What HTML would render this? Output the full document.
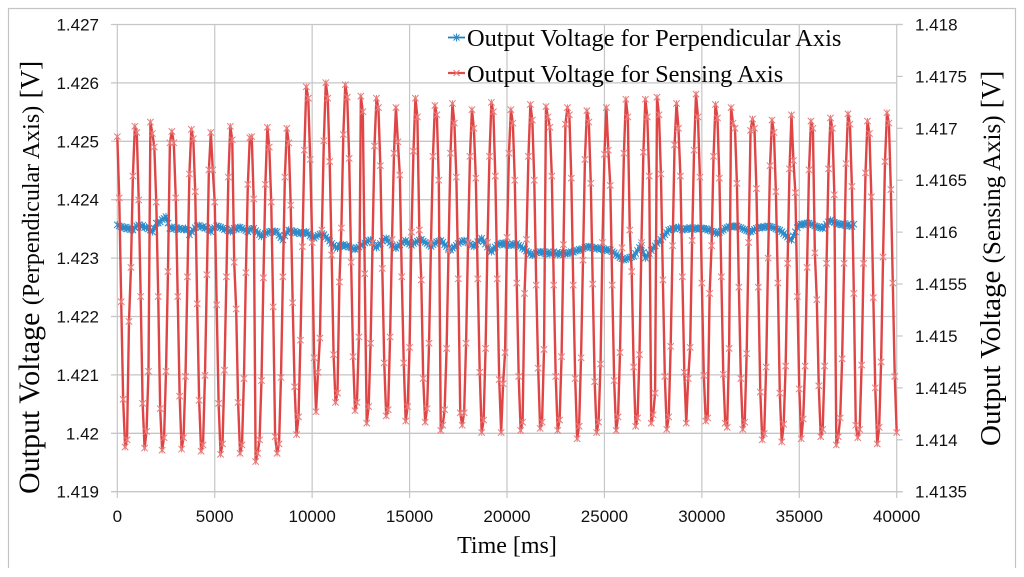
<!DOCTYPE html>
<html lang="en">
<head>
<meta charset="utf-8">
<title>Output Voltage Chart</title>
<style>
html,body{margin:0;padding:0;background:#fff;width:1024px;height:577px;overflow:hidden}
svg{display:block;filter:blur(0.3px)}
.tick{font-family:"Liberation Sans",sans-serif;font-size:17px;fill:#111}
.title{font-family:"Liberation Serif",serif;fill:#050505}
</style>
</head>
<body>
<svg id="chart" xmlns="http://www.w3.org/2000/svg" width="1024" height="577" viewBox="0 0 1024 577">
  <rect x="0" y="0" width="1024" height="577" fill="#fff"/>
  <path d="M8.5 568V8.5H1015.5V568" fill="none" stroke="#c4c4c4" stroke-width="1.2"/>
  <g id="grid"></g>
  <g id="series"></g>
  <g id="labels"></g>
  <text class="title" x="507" y="553" text-anchor="middle" font-size="24">Time [ms]</text>
  <text class="title" transform="translate(39,494) rotate(-90)" font-size="30">Output Voltage <tspan font-size="24">(Perpendicular Axis)</tspan> <tspan font-size="27">[V]</tspan></text>
  <text class="title" transform="translate(1000,446) rotate(-90)" font-size="29">Output Voltage <tspan font-size="25">(Sensing Axis)</tspan> <tspan font-size="27">[V]</tspan></text>
  <g>
    <g>
      <line x1="448" y1="37.5" x2="465" y2="37.5" stroke="#1c80c4" stroke-width="1.8"/>
      <path d="M453.5 34.5l6 6M459.5 34.5l-6 6M456.5 33.5v8" stroke="#2a8ccc" stroke-width="1" fill="none"/>
      <text class="title" x="467" y="46" font-size="24.4">Output Voltage for Perpendicular Axis</text>
    </g>
    <g>
      <line x1="448" y1="73" x2="465" y2="73" stroke="#df4a4a" stroke-width="2.2"/>
      <path d="M453.5 70l6 6M459.5 70l-6 6" stroke="#ea7a7a" stroke-width="1.1" fill="none"/>
      <text class="title" x="467" y="82" font-size="24.4">Output Voltage for Sensing Axis</text>
    </g>
  </g>
</svg>
<script>
const xTickValues = [0, 5000, 10000, 15000, 20000, 25000, 30000, 35000, 40000];
const leftTickLabels = ["1.427", "1.426", "1.425", "1.424", "1.423", "1.422", "1.421", "1.42", "1.419"];
const rightTickLabels = ["1.418", "1.4175", "1.417", "1.4165", "1.416", "1.4155", "1.415", "1.4145", "1.414", "1.4135"];
const sampleIntervalMs = 100;

const perpendicularVolts = [
1.42357,1.42355,1.42354,1.42351,1.42353,1.42350,1.42352,1.42349,1.42348,1.42352,1.42355,1.42357,
1.42354,1.42356,1.42352,1.42353,1.42350,1.42348,1.42345,1.42351,1.42360,1.42360,1.42362,1.42366,1.42368,1.42371,
1.42360,1.42351,1.42353,1.42350,1.42352,1.42349,1.42351,1.42350,1.42349,1.42351,1.42348,1.42340,
1.42345,1.42348,1.42352,1.42355,1.42356,1.42353,1.42354,1.42351,1.42352,1.42349,1.42345,
1.42350,1.42352,1.42355,1.42354,1.42353,1.42351,1.42349,1.42350,1.42347,1.42345,
1.42348,1.42351,1.42349,1.42352,1.42353,1.42351,1.42349,1.42347,1.42345,1.42349,1.42350,1.42351,
1.42347,1.42344,1.42340,1.42337,1.42340,1.42342,1.42344,1.42345,1.42346,1.42344,1.42346,1.42345,
1.42339,1.42335,1.42331,1.42338,1.42344,1.42348,1.42347,1.42345,1.42346,1.42343,1.42344,1.42342,
1.42344,1.42343,1.42345,1.42342,1.42338,1.42336,1.42334,1.42337,1.42339,1.42341,1.42342,
1.42340,1.42336,1.42333,1.42329,1.42325,1.42322,1.42319,1.42317,
1.42322,1.42321,1.42323,1.42320,1.42322,1.42319,1.42318,1.42316,1.42315,
1.42317,1.42319,1.42322,1.42323,1.42326,1.42328,1.42330,1.42331,1.42326,1.42322,1.42318,
1.42322,1.42325,1.42329,1.42332,1.42334,1.42330,1.42326,1.42322,1.42319,1.42317,
1.42320,1.42323,1.42326,1.42328,1.42330,1.42327,1.42324,1.42322,
1.42325,1.42327,1.42329,1.42331,1.42332,1.42329,1.42327,1.42325,1.42322,1.42320,
1.42323,1.42325,1.42328,1.42329,1.42330,1.42327,1.42323,1.42320,1.42317,1.42314,
1.42317,1.42319,1.42322,1.42325,1.42327,1.42329,1.42330,1.42328,1.42326,1.42324,1.42322,1.42320,
1.42324,1.42328,1.42331,1.42334,1.42329,1.42324,1.42319,1.42314,1.42311,
1.42315,1.42319,1.42322,1.42325,1.42324,1.42326,1.42323,1.42325,1.42322,1.42322,1.42324,1.42323,1.42325,
1.42322,1.42320,1.42317,1.42315,1.42312,1.42310,1.42307,1.42305,1.42307,1.42309,1.42310,1.42311,
1.42309,1.42311,1.42308,1.42310,1.42307,1.42309,1.42311,1.42308,1.42306,1.42309,1.42307,1.42310,1.42308,1.42308,
1.42309,1.42311,1.42310,1.42312,1.42313,1.42315,1.42314,1.42316,1.42318,1.42319,1.42320,
1.42319,1.42317,1.42318,1.42316,1.42317,1.42315,1.42316,1.42314,1.42315,1.42313,1.42314,
1.42311,1.42309,1.42306,1.42304,1.42301,1.42299,1.42297,1.42298,1.42300,1.42301,1.42302,1.42303,
1.42308,1.42313,1.42318,1.42322,1.42310,1.42300,1.42304,1.42308,1.42313,1.42317,1.42321,1.42325,
1.42328,1.42332,1.42336,1.42340,1.42344,1.42348,1.42349,1.42351,1.42350,1.42352,1.42353,1.42350,
1.42348,1.42349,1.42351,1.42350,1.42352,1.42349,1.42351,1.42350,1.42352,1.42350,1.42351,1.42351,
1.42350,1.42348,1.42349,1.42346,1.42345,1.42344,1.42342,1.42344,1.42346,1.42348,1.42351,1.42352,1.42354,
1.42353,1.42355,1.42354,1.42355,1.42353,1.42352,1.42350,1.42349,1.42347,1.42346,1.42345,
1.42347,1.42349,1.42351,1.42352,1.42353,1.42352,1.42354,1.42353,1.42355,1.42354,
1.42353,1.42352,1.42350,1.42349,1.42348,1.42345,1.42342,1.42339,1.42336,1.42333,1.42331,
1.42338,1.42345,1.42352,1.42357,1.42358,1.42357,1.42359,1.42360,1.42360,
1.42358,1.42357,1.42355,1.42354,1.42353,1.42352,1.42351,1.42354,1.42358,1.42362,1.42365,
1.42363,1.42361,1.42360,1.42358,1.42358,1.42357,1.42359,1.42356,1.42358,1.42355,1.42354,1.42358
];

const sensingVolts = [
1.41692,1.41633,1.41533,1.41439,1.41393,1.41400,1.41514,1.41566,1.41654,1.41702,
1.41696,1.41631,1.41538,1.41435,1.41392,1.41408,1.41466,1.41706,1.41695,1.41682,
1.41629,1.41538,1.41430,1.41390,1.41402,1.41466,1.41562,1.41686,1.41697,1.41686,
1.41633,1.41538,1.41442,1.41391,1.41402,1.41461,1.41557,1.41656,1.41699,1.41690,
1.41639,1.41531,1.41438,1.41389,1.41395,1.41462,1.41559,1.41660,1.41696,1.41660,
1.41629,1.41530,1.41435,1.41386,1.41396,1.41467,1.41557,1.41653,1.41702,1.41689,
1.41571,1.41526,1.41436,1.41387,1.41395,1.41459,1.41561,1.41646,1.41691,1.41692,
1.41632,1.41379,1.41387,1.41400,1.41457,1.41556,1.41646,1.41701,1.41682,1.41629,
1.41528,1.41403,1.41387,1.41396,1.41460,1.41557,1.41653,1.41700,1.41686,1.41626,
1.41532,1.41451,1.41405,1.41422,1.41496,1.41586,1.41679,1.41740,1.41729,1.41670,
1.41590,1.41479,1.41427,1.41465,1.41498,1.41602,1.41688,1.41744,1.41729,1.41668,
1.41578,1.41482,1.41436,1.41445,1.41552,1.41604,1.41694,1.41742,1.41730,1.41671,
1.41571,1.41480,1.41428,1.41436,1.41499,1.41731,1.41716,1.41560,1.41416,1.41432,
1.41493,1.41590,1.41683,1.41729,1.41720,1.41664,1.41565,1.41474,1.41423,1.41429,
1.41499,1.41593,1.41676,1.41720,1.41687,1.41655,1.41557,1.41474,1.41418,1.41432,
1.41489,1.41600,1.41678,1.41729,1.41711,1.41602,1.41554,1.41459,1.41417,1.41430,
1.41493,1.41590,1.41673,1.41722,1.41713,1.41650,1.41409,1.41414,1.41429,1.41488,
1.41583,1.41676,1.41724,1.41705,1.41653,1.41555,1.41426,1.41414,1.41426,1.41493,
1.41590,1.41673,1.41718,1.41700,1.41652,1.41555,1.41465,1.41407,1.41419,1.41488,
1.41590,1.41673,1.41725,1.41716,1.41654,1.41555,1.41458,1.41407,1.41454,1.41484,
1.41595,1.41676,1.41718,1.41705,1.41650,1.41551,1.41461,1.41409,1.41417,1.41541,
1.41593,1.41673,1.41723,1.41708,1.41650,1.41549,1.41469,1.41411,1.41417,1.41487,
1.41721,1.41711,1.41701,1.41654,1.41549,1.41461,1.41409,1.41419,1.41480,1.41588,
1.41704,1.41720,1.41713,1.41652,1.41549,1.41459,1.41401,1.41413,1.41479,1.41573,
1.41670,1.41717,1.41706,1.41647,1.41550,1.41456,1.41407,1.41417,1.41473,1.41590,
1.41675,1.41720,1.41679,1.41645,1.41549,1.41457,1.41409,1.41422,1.41484,1.41585,
1.41676,1.41728,1.41711,1.41602,1.41562,1.41470,1.41413,1.41421,1.41482,1.41590,
1.41677,1.41728,1.41711,1.41654,1.41416,1.41424,1.41445,1.41730,1.41713,1.41656,
1.41554,1.41461,1.41410,1.41422,1.41490,1.41587,1.41684,1.41724,1.41700,1.41654,
1.41557,1.41465,1.41416,1.41459,1.41489,1.41592,1.41679,1.41733,1.41711,1.41653,
1.41551,1.41462,1.41418,1.41421,1.41541,1.41587,1.41673,1.41723,1.41710,1.41652,
1.41557,1.41463,1.41416,1.41412,1.41488,1.41720,1.41705,1.41700,1.41647,1.41547,
1.41459,1.41410,1.41417,1.41483,1.41590,1.41698,1.41709,1.41700,1.41642,1.41547,
1.41446,1.41400,1.41406,1.41470,1.41575,1.41664,1.41708,1.41696,1.41639,1.41551,
1.41445,1.41398,1.41415,1.41471,1.41570,1.41661,1.41713,1.41669,1.41638,1.41538,
1.41449,1.41401,1.41420,1.41471,1.41566,1.41660,1.41707,1.41700,1.41580,1.41535,
1.41452,1.41403,1.41410,1.41471,1.41570,1.41661,1.41710,1.41700,1.41636,1.41395,
1.41403,1.41421,1.41478,1.41570,1.41666,1.41714,1.41704,1.41644,1.41541,1.41414,
1.41402,1.41410,1.41472,1.41570,1.41657,1.41707,1.41695,1.41634,1.41537,1.41450,
1.41396,1.41412,1.41475,1.41576,1.41668,1.41715,1.41705,1.41641,1.41551,1.41461,
1.41407
];

const NS = "http://www.w3.org/2000/svg";
const plot = { left: 117.3, right: 896.7, top: 24.5, bottom: 491.7 };
const xDomain = [0, 40000];
const leftDomain = [1.419, 1.427];
const rightDomain = [1.4135, 1.418];

function xScale(t) {
  return plot.left + (t - xDomain[0]) / (xDomain[1] - xDomain[0]) * (plot.right - plot.left);
}
function leftScale(v) {
  return plot.bottom - (v - leftDomain[0]) / (leftDomain[1] - leftDomain[0]) * (plot.bottom - plot.top);
}
function rightScale(v) {
  return plot.bottom - (v - rightDomain[0]) / (rightDomain[1] - rightDomain[0]) * (plot.bottom - plot.top);
}
function make(tag, attrs) {
  const el = document.createElementNS(NS, tag);
  for (const k in attrs) el.setAttribute(k, attrs[k]);
  return el;
}

const grid = document.getElementById("grid");
const labels = document.getElementById("labels");
const seriesLayer = document.getElementById("series");
const gridColor = "#c6c6c6";

xTickValues.forEach(function (t) {
  const x = xScale(t);
  const line = make("line", { x1: x, x2: x, y1: plot.top, y2: 498, stroke: gridColor, "stroke-width": 1.2 });
  
  
  grid.appendChild(line);
  const label = make("text", { x: x, y: 522, "text-anchor": "middle", class: "tick" });
  
  
  label.textContent = String(t);
  labels.appendChild(label);
});

leftTickLabels.forEach(function (s, i) {
  const y = leftScale(parseFloat(s));
  const edge = (i === 0 || i === leftTickLabels.length - 1) ? 902.7 : plot.right;
  const line = make("line", { x1: 111, x2: edge, y1: y, y2: y, stroke: gridColor, "stroke-width": 1.3 });
  
  
  grid.appendChild(line);
  const label = make("text", { x: 99, y: y + 6, "text-anchor": "end", class: "tick" });
  
  
  label.textContent = s;
  labels.appendChild(label);
});

rightTickLabels.forEach(function (s) {
  const y = rightScale(parseFloat(s));
  const tick = make("line", { x1: plot.right, x2: 902.7, y1: y, y2: y, stroke: gridColor, "stroke-width": 1.2 });
  
  
  grid.appendChild(tick);
  const label = make("text", { x: 915, y: y + 6, "text-anchor": "start", class: "tick" });
  
  
  label.textContent = s;
  labels.appendChild(label);
});

function seriesPoints(values, scale) {
  return values.map(function (v, i) {
    return [xScale(i * sampleIntervalMs), scale(v)];
  });
}

const sensingPts = seriesPoints(sensingVolts, rightScale);
const sensingLine = make("polyline", {
  points: sensingPts.map(function (p) { return p[0].toFixed(2) + "," + p[1].toFixed(2); }).join(" "),
  fill: "none", stroke: "#df4545", "stroke-width": 2.4, "stroke-linejoin": "round"
});


seriesLayer.appendChild(sensingLine);

sensingPts.forEach(function (p) {
  const r = 3.2;
  const d = "M" + (p[0] - r) + " " + (p[1] - r) + "L" + (p[0] + r) + " " + (p[1] + r) +
            "M" + (p[0] + r) + " " + (p[1] - r) + "L" + (p[0] - r) + " " + (p[1] + r) +
            "M" + p[0] + " " + (p[1] - r) + "V" + (p[1] + r);
  const m = make("path", { d: d, stroke: "#e97c7c", "stroke-width": 1, fill: "none" });
  
  
  seriesLayer.appendChild(m);
});

const perpendicularPts = seriesPoints(perpendicularVolts, leftScale);
const perpendicularLine = make("polyline", {
  points: perpendicularPts.map(function (p) { return p[0].toFixed(2) + "," + p[1].toFixed(2); }).join(" "),
  fill: "none", stroke: "#1c80c4", "stroke-width": 2.4, "stroke-linejoin": "round"
});


seriesLayer.insertBefore(perpendicularLine, sensingLine);

perpendicularPts.forEach(function (p) {
  const r = 3.2;
  const d = "M" + (p[0] - r) + " " + (p[1] - r) + "L" + (p[0] + r) + " " + (p[1] + r) +
            "M" + (p[0] + r) + " " + (p[1] - r) + "L" + (p[0] - r) + " " + (p[1] + r) +
            "M" + p[0] + " " + (p[1] - r - 0.6) + "V" + (p[1] + r + 0.6);
  const m = make("path", { d: d, stroke: "#2a8ccc", "stroke-width": 1, fill: "none" });
  
  
  seriesLayer.insertBefore(m, sensingLine);
});
</script>
</body>
</html>
